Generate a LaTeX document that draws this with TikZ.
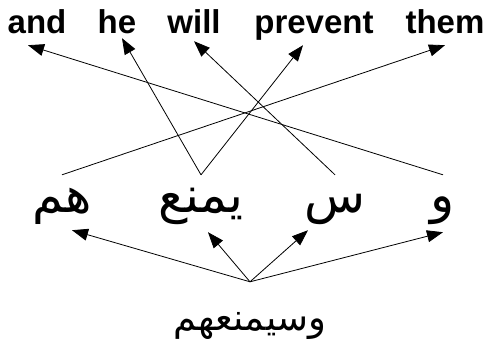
\documentclass[tikz,border=0pt]{standalone}
\usepackage{fontspec}
\usepackage{tikz}
\usetikzlibrary{arrows.meta}
\setmainfont{Liberation Sans}
\newfontfamily\arabicfont[Script=Arabic]{DejaVu Sans}
\TeXXeTstate=1

\tikzset{
  eng/.style={font=\bfseries\fontsize{33}{33}\selectfont, anchor=base, inner sep=0pt, text depth=12pt},
  seg/.style={font=\arabicfont\fontsize{50}{50}\selectfont, anchor=base, inner sep=0pt, text height=37pt, text depth=18pt},
  whole/.style={font=\arabicfont\fontsize{37}{37}\selectfont, anchor=base, inner sep=0pt, text height=48pt},
  link/.style={-{Triangle[length=16pt,width=12pt]}, line width=0.8pt}
}

\begin{document}
\begin{tikzpicture}[x=1pt,y=-1pt]
    \useasboundingbox (0,0) rectangle (487,341);

    % english words
    \node[eng] (eand) at (37,33) {and};
    \node[eng] (ehe) at (117,33) {he};
    \node[eng] (ewill) at (194,33) {will};
    \node[eng] (eprevent) at (314,33) {prevent};
    \node[eng] (ethem) at (445,33) {them};

    % arabic segments
    \node[seg] (hum) at (62,212) {\beginR هم\endR};
    \node[seg] (ymn) at (201,212) {\beginR يمنع\endR};
    \node[seg] (sa) at (335,212) {\beginR س\endR};
    \node[seg] (wa) at (443,212) {\beginR و\endR};

    % whole word
    \node[whole] (full) at (250,330) {\beginR وسيمنعهم\endR};

    % segment to word
    \draw[link] (wa.north) -- ([xshift=-9pt]eand.south);
    \draw[link] (ymn.north) -- ([xshift=5pt,yshift=7pt]ehe.south);
    \draw[link] (sa.north) -- ([yshift=4pt]ewill.south);
    \draw[link] (ymn.north) -- ([xshift=-11pt]eprevent.south);
    \draw[link] (hum.north) -- (ethem.south);

    % split into segments
    \draw[link] (full.north) -- ([xshift=10pt]hum.south);
    \draw[link] (full.north) -- ([xshift=7pt,yshift=-2pt]ymn.south);
    \draw[link] (full.north) -- ([xshift=-27pt]sa.south);
    \draw[link] (full.north) -- ([yshift=-2pt]wa.south);
\end{tikzpicture}
\end{document}
